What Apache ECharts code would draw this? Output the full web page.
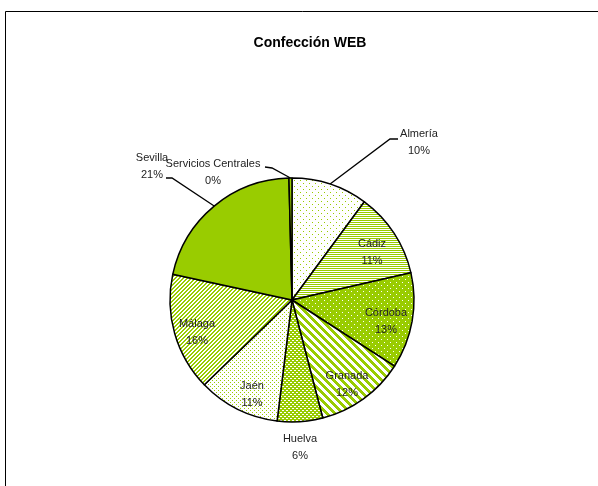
<!DOCTYPE html>
<html>
<head>
<meta charset="utf-8">
<script src="https://cdn.jsdelivr.net/npm/echarts@6/dist/echarts.min.js"></script>
<style>
html,body{margin:0;padding:0;background:#fff;}
#chart{width:598px;height:486px;}
</style>
</head>
<body>
<div id="chart"></div>
<script>
// ---- data ----
const categories = ['Almería','Cádiz','Córdoba','Granada','Huelva','Jaén','Málaga','Sevilla','Servicios Centrales'];
const values = [10.1, 11.3, 12.7, 11.8, 6.0, 10.8, 15.6, 21.2, 0.4];
const titleText = 'Confección WEB';

// ---- style ----
const GREEN = '#99CC00';
const FONT = "'Liberation Sans Narrow','Arial Narrow','Liberation Sans',sans-serif";
// label block centres
const labelPos = [[419,142],[372,252],[386,321],[347,384],[300,447],[252,394],[197,332],[152,166],[213,172]];
// leader line bends (after pie-edge point)
const leaders = {0: [[390,139],[398,139]], 7: [[172,178],[166,178]], 8: [[272,168],[265,167]]};
const positions = ['outside','inside','inside','inside','outside','inside','inside','outside','outside'];

function tile(w, h, bg, fg, fn) {
  const c = document.createElement('canvas');
  c.width = w; c.height = h;
  const ctx = c.getContext('2d');
  ctx.fillStyle = bg; ctx.fillRect(0, 0, w, h);
  ctx.fillStyle = fg;
  for (let y = 0; y < h; y++) for (let x = 0; x < w; x++) if (fn(x, y)) ctx.fillRect(x, y, 1, 1);
  return {image: c, repeat: 'repeat'};
}
const patterns = [
  tile(6, 6, '#fff', GREEN, (x,y)=> (x===0&&y===0)||(x===3&&y===3)),            // Almería dots
  tile(2, 2, '#fff', GREEN, (x,y)=> y===0),                                     // Cádiz horizontal
  tile(6, 6, GREEN, '#fff', (x,y)=> (x===0&&y===0)||(x===3&&y===3)),            // Córdoba
  tile(8, 8, '#fff', GREEN, (x,y)=> ((x - y + 16) % 8) < 4),                    // Granada wide
  tile(4, 4, GREEN, '#fff', (x,y)=> (y===0&&x<2)||(y===2&&x>=2)),               // Huelva
  tile(4, 4, '#fff', GREEN, (x,y)=> (x===0&&y===0)||(x===2&&y===2)),            // Jaén
  tile(4, 4, '#fff', GREEN, (x,y)=> ((x + y) % 4) < 2),                         // Málaga
  GREEN,                                                                        // Sevilla
  GREEN                                                                         // Servicios
];

const total = values.reduce((a,b)=>a+b,0);
const data = categories.map((n,i)=>({
  name: n,
  value: values[i],
  itemStyle: {color: patterns[i]},
  label: {position: positions[i]},
  labelLine: {show: !!leaders[i]}
}));

const chart = echarts.init(document.getElementById('chart'), null, {renderer:'canvas'});
chart.setOption({
  animation: false,
  backgroundColor: '#fff',
  title: {
    text: titleText, left: 305, top: 31, textAlign: 'center',
    textStyle: {fontFamily: FONT, fontWeight: 'bold', fontSize: 14, color: '#000'}
  },
  graphic: [{
    type: 'rect', shape: {x: 5.5, y: 11.5, width: 700, height: 600},
    style: {fill: 'none', stroke: '#000', lineWidth: 1}, silent: true
  }],
  series: [{
    type: 'pie',
    center: [292, 300],
    radius: 122,
    startAngle: 90,
    clockwise: true,
    avoidLabelOverlap: false,
    silent: true,
    itemStyle: {borderColor: '#000', borderWidth: 1.5},
    label: {
      show: true,
      fontFamily: FONT, fontSize: 11, color: '#222', lineHeight: 17,
      align: 'center',
      formatter: p => p.name + '\n' + Math.round(p.value / total * 100) + '%'
    },
    labelLine: {lineStyle: {color: '#000', width: 1.3}, length: 10, length2: 10},
    labelLayout: function(p) {
      const i = p.dataIndex;
      const o = {x: labelPos[i][0], y: labelPos[i][1], align: 'center', verticalAlign: 'middle'};
      if (leaders[i] && p.labelLinePoints) {
        o.labelLinePoints = [p.labelLinePoints[0], leaders[i][0], leaders[i][1]];
      }
      return o;
    },
    data: data
  }]
});
</script>
</body>
</html>
